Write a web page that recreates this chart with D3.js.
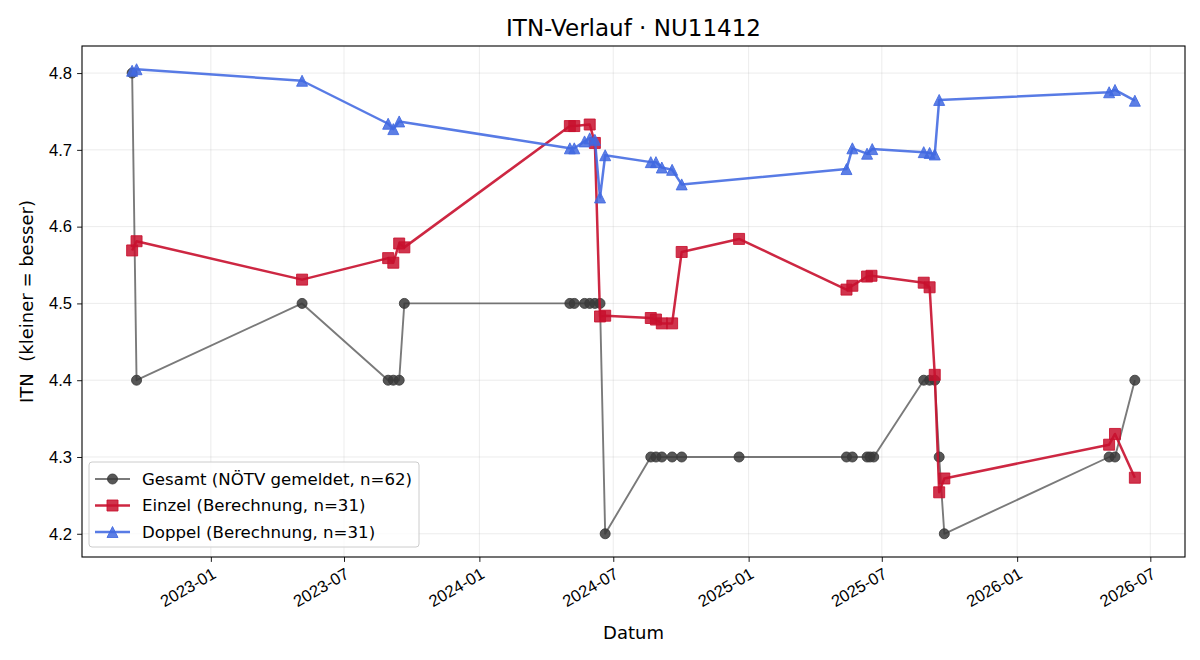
<!DOCTYPE html>
<html>
<head>
<meta charset="utf-8">
<script src="https://cdn.jsdelivr.net/npm/d3@7"></script>
<style>
  html, body { margin: 0; padding: 0; background: #fff; }
  svg { display: block; font-family: "DejaVu Sans", sans-serif; }
</style>
</head>
<body>
<svg id="chart" width="1200" height="660"></svg>
<script>
// ---- data ----
const gesamtDates = ["2022-09-16","2022-09-22","2023-05-05","2023-08-30","2023-09-06","2023-09-14","2023-09-21",
  "2024-05-03","2024-05-09","2024-05-23","2024-05-30","2024-06-06","2024-06-13","2024-06-20",
  "2024-08-21","2024-08-28","2024-09-05","2024-09-19","2024-10-02","2024-12-19",
  "2025-05-14","2025-05-22","2025-06-11","2025-06-15","2025-06-20","2025-08-27","2025-09-04","2025-09-11","2025-09-17","2025-09-24",
  "2026-05-06","2026-05-14","2026-06-10"];
const gesamtValues = [4.8,4.4,4.5,4.4,4.4,4.4,4.5,
  4.5,4.5,4.5,4.5,4.5,4.5,4.2,
  4.3,4.3,4.3,4.3,4.3,4.3,
  4.3,4.3,4.3,4.3,4.3,4.4,4.4,4.4,4.3,4.2,
  4.3,4.3,4.4];

const einzelDates = ["2022-09-16","2022-09-22","2023-05-05","2023-08-30","2023-09-06","2023-09-14","2023-09-21",
  "2024-05-03","2024-05-09","2024-05-30","2024-06-06","2024-06-13","2024-06-20",
  "2024-08-21","2024-08-28","2024-09-05","2024-09-19","2024-10-02","2024-12-19",
  "2025-05-14","2025-05-22","2025-06-11","2025-06-17","2025-08-27","2025-09-04","2025-09-11","2025-09-17","2025-09-24",
  "2026-05-06","2026-05-14","2026-06-10"];
const einzelValues = [4.569,4.581,4.531,4.559,4.553,4.578,4.573,
  4.731,4.731,4.733,4.709,4.483,4.484,
  4.481,4.479,4.474,4.474,4.567,4.584,
  4.518,4.523,4.535,4.536,4.527,4.521,4.407,4.254,4.272,
  4.316,4.330,4.273];

const doppelDates = ["2022-09-16","2022-09-22","2023-05-05","2023-08-30","2023-09-06","2023-09-14",
  "2024-05-03","2024-05-09","2024-05-23","2024-05-30","2024-06-06","2024-06-13","2024-06-20",
  "2024-08-21","2024-08-28","2024-09-05","2024-09-19","2024-10-02",
  "2025-05-14","2025-05-22","2025-06-11","2025-06-18","2025-08-27","2025-09-04","2025-09-11","2025-09-17",
  "2026-05-06","2026-05-14","2026-06-10"];
const doppelValues = [4.803,4.805,4.790,4.734,4.727,4.737,
  4.702,4.702,4.711,4.715,4.713,4.638,4.693,
  4.684,4.684,4.677,4.674,4.655,
  4.675,4.702,4.695,4.701,4.697,4.696,4.694,4.765,
  4.775,4.778,4.764];

const seriesNames = ["Gesamt (NÖTV gemeldet, n=62)", "Einzel (Berechnung, n=31)", "Doppel (Berechnung, n=31)"];
const xTickLabels = ["2023-01","2023-07","2024-01","2024-07","2025-01","2025-07","2026-01","2026-07"];
const yTickValues = [4.2,4.3,4.4,4.5,4.6,4.7,4.8];
const titleText = "ITN-Verlauf · NU11412";
const xLabelText = "Datum";
const yLabelText = "ITN  (kleiner = besser)";

// ---- layout ----
const W = 1200, H = 660;
const m = {left: 82, right: 15, top: 46, bottom: 103};
const iw = W - m.left - m.right, ih = H - m.top - m.bottom;
const parse = d3.utcParse("%Y-%m-%d");
const parseTick = d3.utcParse("%Y-%m");
const FS = 16.6;

const series = [
  {name: seriesNames[0], dates: gesamtDates, values: gesamtValues, line: "#333333", lineOp: 0.65, lw: 1.9, marker: "circle", mfill: "#3a3a3a", mop: 0.85, size: 10},
  {name: seriesNames[1], dates: einzelDates, values: einzelValues, line: "#C8102E", lineOp: 0.9, lw: 2.5, marker: "square", mfill: "#C8102E", mop: 0.85, size: 11},
  {name: seriesNames[2], dates: doppelDates, values: doppelValues, line: "#4169E1", lineOp: 0.88, lw: 2.5, marker: "triangle", mfill: "#4169E1", mop: 0.85, size: 11}
].map(s => ({...s, pts: s.dates.map((d, i) => ({x: parse(d), y: s.values[i]}))}));

const allX = series.flatMap(s => s.pts.map(p => +p.x));
const allY = series.flatMap(s => s.pts.map(p => p.y));
const [x0, x1] = d3.extent(allX), [y0, y1] = d3.extent(allY);
const xp = (x1 - x0) * 0.05, yp = (y1 - y0) * 0.05;

const x = d3.scaleUtc().domain([new Date(x0 - xp), new Date(x1 + xp)]).range([0, iw]);
const y = d3.scaleLinear().domain([y0 - yp, y1 + yp]).range([ih, 0]);

const svg = d3.select("#chart");
svg.append("rect").attr("width", W).attr("height", H).attr("fill", "#fff");
const g = svg.append("g").attr("transform", `translate(${m.left},${m.top})`);

const xTicks = xTickLabels.map(t => parseTick(t));

// grid
g.append("g").selectAll("line").data(xTicks).join("line")
  .attr("x1", d => x(d)).attr("x2", d => x(d)).attr("y1", 0).attr("y2", ih)
  .attr("stroke", "#b0b0b0").attr("stroke-opacity", 0.3).attr("stroke-width", 0.8);
g.append("g").selectAll("line").data(yTickValues).join("line")
  .attr("y1", d => y(d)).attr("y2", d => y(d)).attr("x1", 0).attr("x2", iw)
  .attr("stroke", "#b0b0b0").attr("stroke-opacity", 0.3).attr("stroke-width", 0.8);

// axes
const xAxis = g.append("g").attr("transform", `translate(0,${ih})`)
  .call(d3.axisBottom(x).tickValues(xTicks).tickFormat(d3.utcFormat("%Y-%m")).tickSizeOuter(0).tickSize(4.9).tickPadding(3));
xAxis.select(".domain").remove();
xAxis.selectAll("line").attr("stroke", "#000").attr("stroke-width", 0.9);
xAxis.selectAll("text").attr("font-size", FS + "px").attr("fill", "#000")
  .attr("text-anchor", "end").attr("dy", "0.71em")
  .attr("transform", "translate(-4,3) rotate(-30)");

const yAxis = g.append("g")
  .call(d3.axisLeft(y).tickValues(yTickValues).tickFormat(d3.format(".1f")).tickSizeOuter(0).tickSize(4.9).tickPadding(5));
yAxis.select(".domain").remove();
yAxis.selectAll("line").attr("stroke", "#000").attr("stroke-width", 0.9);
yAxis.selectAll("text").attr("font-size", FS + "px").attr("fill", "#000");

// series
const lineGen = d3.line().x(p => x(p.x)).y(p => y(p.y));
function markerPath(type, s) {
  const h = s / 2;
  if (type === "square") return `M${-h},${-h}H${h}V${h}H${-h}Z`;
  if (type === "triangle") return `M0,${-h}L${h},${h}L${-h},${h}Z`;
  return d3.symbol(d3.symbolCircle, Math.PI * h * h)();
}

series.forEach(s => {
  const sg = g.append("g");
  sg.append("path").datum(s.pts).attr("d", lineGen)
    .attr("fill", "none").attr("stroke", s.line).attr("stroke-opacity", s.lineOp)
    .attr("stroke-width", s.lw).attr("stroke-linejoin", "round").attr("stroke-linecap", "butt");
  sg.selectAll("path.mk").data(s.pts).join("path").attr("class", "mk")
    .attr("d", markerPath(s.marker, s.size))
    .attr("transform", p => `translate(${x(p.x)},${y(p.y)})`)
    .attr("fill", s.mfill).attr("fill-opacity", s.mop)
    .attr("stroke", s.mfill).attr("stroke-opacity", s.mop).attr("stroke-width", 1);
});

// frame
g.append("rect").attr("width", iw).attr("height", ih).attr("fill", "none")
  .attr("stroke", "#000").attr("stroke-width", 1.1);

// legend
const lg = g.append("g").attr("transform", `translate(7,${ih - 95})`);
lg.append("rect").attr("width", 330).attr("height", 85).attr("rx", 3).attr("ry", 3)
  .attr("fill", "#fff").attr("fill-opacity", 0.8).attr("stroke", "#cccccc").attr("stroke-width", 1);
series.forEach((s, i) => {
  const row = lg.append("g").attr("transform", `translate(0,${17 + i * 26.5})`);
  row.append("line").attr("x1", 6).attr("x2", 41).attr("y1", 0).attr("y2", 0)
    .attr("stroke", s.line).attr("stroke-opacity", s.lineOp).attr("stroke-width", s.lw);
  row.append("path").attr("d", markerPath(s.marker, s.size))
    .attr("transform", "translate(23.5,0)")
    .attr("fill", s.mfill).attr("fill-opacity", s.mop)
    .attr("stroke", s.mfill).attr("stroke-opacity", s.mop).attr("stroke-width", 1);
  row.append("text").attr("x", 53).attr("y", 0).attr("dy", "0.35em")
    .attr("font-size", FS + "px").attr("fill", "#000").text(s.name);
});

// labels
svg.append("text").attr("x", m.left + iw / 2).attr("y", 36).attr("text-anchor", "middle")
  .attr("font-size", "23px").attr("fill", "#000").text(titleText);
svg.append("text").attr("x", m.left + iw / 2).attr("y", 639).attr("text-anchor", "middle")
  .attr("font-size", "18px").attr("fill", "#000").text(xLabelText);
svg.append("text").attr("transform", `translate(33,${m.top + ih / 2}) rotate(-90)`)
  .attr("text-anchor", "middle").attr("font-size", "18px").attr("fill", "#000")
  .style("white-space", "pre").text(yLabelText);
</script>
</body>
</html>
